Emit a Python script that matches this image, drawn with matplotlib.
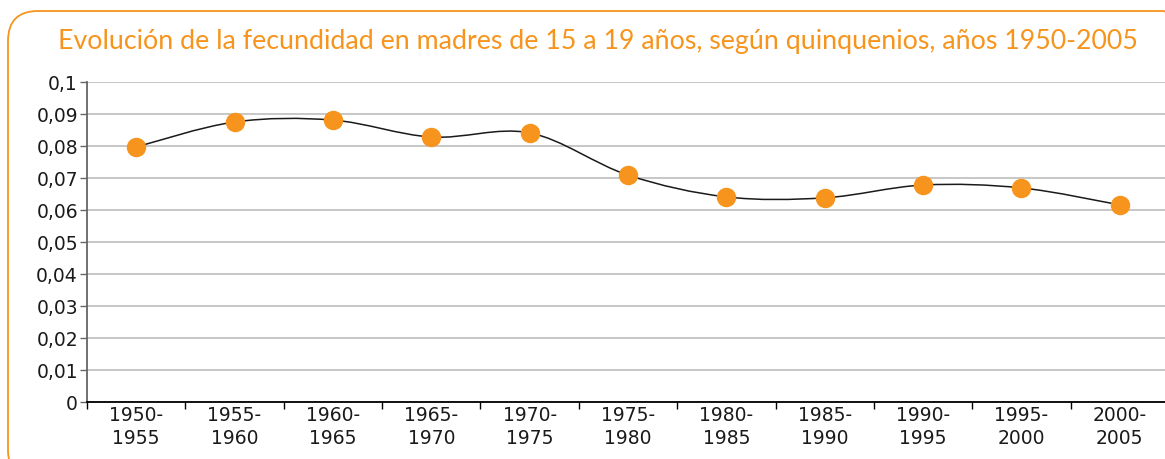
import matplotlib
matplotlib.use("Agg")
import matplotlib.pyplot as plt
from matplotlib.path import Path
from matplotlib.patches import PathPatch, FancyBboxPatch
from matplotlib.transforms import IdentityTransform
import numpy as np

# data
periodos = ["1950-\n1955", "1955-\n1960", "1960-\n1965", "1965-\n1970", "1970-\n1975",
            "1975-\n1980", "1980-\n1985", "1985-\n1990", "1990-\n1995", "1995-\n2000",
            "2000-\n2005"]
fecundidad = [0.0797, 0.0875, 0.0881, 0.0828, 0.0841, 0.0709, 0.0641, 0.0638, 0.0678, 0.0669, 0.0616]
yticks = [0, 0.01, 0.02, 0.03, 0.04, 0.05, 0.06, 0.07, 0.08, 0.09, 0.1]
ylabels = ["0", "0,01", "0,02", "0,03", "0,04", "0,05", "0,06", "0,07", "0,08", "0,09", "0,1"]
titulo = "Evolución de la fecundidad en madres de 15 a 19 años, según quinquenios, años 1950-2005"

naranja = "#F7941D"
W, H = 1165, 459

plt.rcParams["font.family"] = "DejaVu Sans"
fig = plt.figure(figsize=(W / 100, H / 100), dpi=100)

# rounded orange frame in pixel units (origin bottom-left), runs off right and bottom
marco = FancyBboxPatch((8, H - 480), 1185, 469, boxstyle="round,pad=0,rounding_size=30",
                       transform=IdentityTransform(), fill=False, edgecolor=naranja,
                       linewidth=1.3)
fig.patches.append(marco)

ax = fig.add_axes([87 / W, 57 / H, 1082 / W, 320 / H])
n = len(fecundidad)
x = np.arange(n)
ax.set_xlim(-0.5, n - 0.5)
ax.set_ylim(0, 0.1)

ax.set_yticks(yticks)
ax.set_yticklabels(ylabels)
ax.set_xticks(x)
ax.set_xticklabels(periodos, linespacing=1.25)
ax.set_xticks(np.arange(n + 1) - 0.5, minor=True)
ax.tick_params(axis="x", which="major", length=0, pad=3, labelsize=13.5, colors="#1a1a1a")
ax.tick_params(axis="x", which="minor", length=5, width=1, color="black")
ax.tick_params(axis="y", length=5, width=1, color="#666666", pad=1.5, labelsize=13.5, labelcolor="#1a1a1a")

ax.grid(axis="y", color="#BEBEBE", linewidth=1.2)
ax.set_axisbelow(True)
for s in ["top", "right"]:
    ax.spines[s].set_visible(False)
ax.spines["left"].set_color("#666666")
ax.spines["left"].set_linewidth(1.3)
ax.spines["bottom"].set_color("black")
ax.spines["bottom"].set_linewidth(1.3)

# smoothed line (Catmull-Rom as cubic bezier segments)
pts = np.column_stack([x, fecundidad])
verts = [tuple(pts[0])]
codes = [Path.MOVETO]
for i in range(n - 1):
    p0 = pts[max(i - 1, 0)]
    p1 = pts[i]
    p2 = pts[i + 1]
    p3 = pts[min(i + 2, n - 1)]
    c1 = p1 + (p2 - p0) / 6
    c2 = p2 - (p3 - p1) / 6
    verts += [tuple(c1), tuple(c2), tuple(p2)]
    codes += [Path.CURVE4] * 3
ax.add_patch(PathPatch(Path(verts, codes), fill=False, edgecolor="#1a1a1a", linewidth=1.1, zorder=2))
ax.plot(x, fecundidad, linestyle="none", marker="o", markersize=13,
        color=naranja, markeredgecolor=naranja, zorder=3)

t = fig.text(598 / W, 1 - 42 / H, titulo, color=naranja, fontsize=16, ha="center", va="center",
             family=["Lato", "DejaVu Sans"])
fig.canvas.draw()
w = t.get_window_extent().width
t.set_fontsize(16 * 1083 / w)

fig.savefig("out.png", dpi=100)
